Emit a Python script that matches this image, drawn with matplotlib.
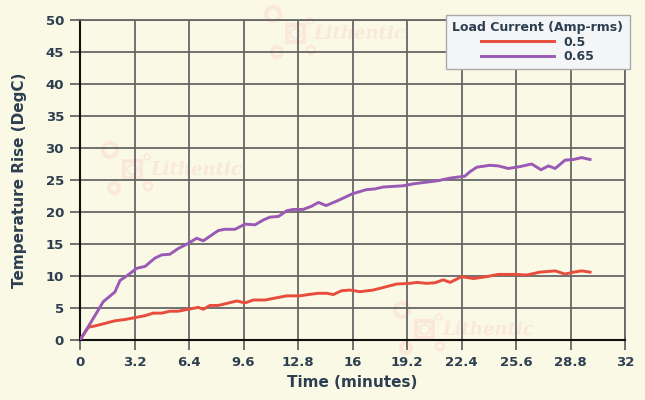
import matplotlib.pyplot as plt
from matplotlib.patches import Circle, Rectangle

# data
t_05 = [0, 0.49, 0.88, 1.47, 2.05, 2.64, 3.23, 3.82, 4.3, 4.8, 5.28, 5.77, 6.36, 6.95,
        7.24, 7.63, 8.12, 8.6, 9.2, 9.69, 10.18, 10.86, 11.35, 12.14, 12.92, 13.4,
        13.99, 14.49, 14.87, 15.36, 15.85, 16.44, 17.2, 17.8, 18.6, 19.38, 19.77,
        20.36, 20.85, 21.33, 21.73, 22.41, 23.1, 23.88, 24.56, 25.64, 26.23, 27.0,
        27.9, 28.48, 28.97, 29.46, 29.95]
rise_05 = [0, 1.98, 2.2, 2.6, 3.0, 3.2, 3.5, 3.8, 4.2, 4.2, 4.5, 4.5, 4.8, 5.1,
           4.8, 5.4, 5.4, 5.7, 6.1, 5.8, 6.25, 6.25, 6.5, 6.9, 6.9, 7.1,
           7.3, 7.3, 7.1, 7.7, 7.8, 7.55, 7.8, 8.2, 8.75, 8.85, 9.0,
           8.85, 8.95, 9.4, 9.0, 9.9, 9.6, 9.9, 10.25, 10.25, 10.15, 10.6,
           10.8, 10.3, 10.6, 10.8, 10.6]

t_065 = [0, 0.49, 1.37, 2.05, 2.35, 2.84, 3.33, 3.82, 4.4, 4.8, 5.28, 5.77, 6.36,
         6.85, 7.24, 7.73, 8.12, 8.5, 9.1, 9.69, 10.28, 10.76, 11.16, 11.65, 12.14,
         12.53, 13.1, 13.6, 14.0, 14.45, 15.07, 15.56, 15.95, 16.44, 16.83, 17.3,
         17.8, 18.4, 18.98, 19.57, 20.16, 21.04, 21.73, 22.6, 22.9, 23.3, 24.07,
         24.56, 25.15, 25.84, 26.52, 27.07, 27.5, 27.9, 28.48, 28.97, 29.46, 29.95]
rise_065 = [0, 2.1, 6.0, 7.5, 9.3, 10.2, 11.2, 11.5, 12.8, 13.3, 13.4, 14.3, 15.1,
            15.9, 15.5, 16.4, 17.1, 17.3, 17.3, 18.1, 18.0, 18.75, 19.2, 19.3, 20.2,
            20.4, 20.4, 20.9, 21.5, 21.0, 21.7, 22.3, 22.8, 23.2, 23.5, 23.6,
            23.9, 24.0, 24.1, 24.4, 24.6, 24.9, 25.3, 25.6, 26.3, 27.0, 27.3,
            27.2, 26.8, 27.1, 27.5, 26.6, 27.2, 26.8, 28.1, 28.2, 28.5, 28.2]

x_ticks = [0, 3.2, 6.4, 9.6, 12.8, 16, 19.2, 22.4, 25.6, 28.8, 32]
x_labels = ["0", "3.2", "6.4", "9.6", "12.8", "16", "19.2", "22.4", "25.6", "28.8", "32"]
y_ticks = list(range(0, 55, 5))

bg = "#FAF9E5"
txt = "#2C3E50"
grid_c = "#666666"
wm_c = "#FAE8D8"

W, H = 645, 400
fig = plt.figure(figsize=(6.45, 4.0), dpi=100, facecolor=bg)
ax = fig.add_axes([80 / W, 60 / H, 545 / W, 320 / H], facecolor=bg)


# faint "Lithentic" watermark, cx/cy = centre of the big ring in pixels from top-left
def watermark(cx, cy):
    def px(x, y):
        return (x, H - y)
    items = [
        Circle(px(cx, cy), 7, fill=False, lw=2.9, ec=wm_c),
        Rectangle(px(cx + 14, cy + 28), 17, 17, fill=False, lw=2.9, ec=wm_c),
        Circle(px(cx + 22.5, cy + 19.5), 5, fill=False, lw=1.5, ec=wm_c),
        Circle(px(cx + 37, cy + 7), 3, fill=False, lw=1.2, ec=wm_c),
        Circle(px(cx + 38, cy + 36), 4, fill=False, lw=1.8, ec=wm_c),
        Circle(px(cx + 4, cy + 38), 5, fill=False, lw=2.8, ec=wm_c),
    ]
    for p in items:
        p.set_transform(None)
        p.set_clip_on(False)
        p.set_zorder(0.2)
        ax.add_artist(p)
    ax.text(cx + 40, H - (cy + 20), "Lithentic", transform=None, color=wm_c, fontsize=13,
            fontstyle="italic", fontweight="bold", family="DejaVu Serif", va="center",
            zorder=0.2, clip_on=False)


watermark(273, 14)
watermark(110, 150)
watermark(402, 310)

ax.plot(t_05, rise_05, color="#E74C3C", lw=2.1, label="0.5", zorder=3)
ax.plot(t_065, rise_065, color="#9B59B6", lw=2.1, label="0.65", zorder=3)

ax.set_xlim(0, 32)
ax.set_ylim(0, 50)
ax.set_xticks(x_ticks)
ax.set_xticklabels(x_labels)
ax.set_yticks(y_ticks)
ax.grid(True, color=grid_c, lw=1.3)
ax.set_axisbelow(True)
ax.tick_params(length=7.5, width=1.3, color=grid_c, pad=4, labelcolor=txt, labelsize=9.5)
for lab in ax.get_xticklabels() + ax.get_yticklabels():
    lab.set_fontweight("bold")

for s in ["top", "right"]:
    ax.spines[s].set_color(grid_c)
    ax.spines[s].set_linewidth(1.3)
for s in ["left", "bottom"]:
    ax.spines[s].set_color("#111111")
    ax.spines[s].set_linewidth(1.5)

ax.set_xlabel("Time (minutes)", fontsize=11, fontweight="bold", color=txt, labelpad=4)
ax.set_ylabel("Temperature Rise (DegC)", fontsize=11, fontweight="bold", color=txt, labelpad=13)

leg = ax.legend(title="Load Current (Amp-rms)", loc="upper right",
                bbox_to_anchor=(636 / W, 391 / H), bbox_transform=fig.transFigure,
                fontsize=9, title_fontsize=9, handlelength=5.8, handletextpad=0.8,
                borderpad=0.5, labelspacing=0.1, fancybox=False, framealpha=1,
                facecolor="#F4F5F6", edgecolor="#AAAAAA")
leg.get_title().set_fontweight("bold")
leg.get_title().set_color(txt)
for tx in leg.get_texts():
    tx.set_fontweight("bold")
    tx.set_color(txt)
leg.set_zorder(5)

fig.savefig("out.png", dpi=100, facecolor=bg)
